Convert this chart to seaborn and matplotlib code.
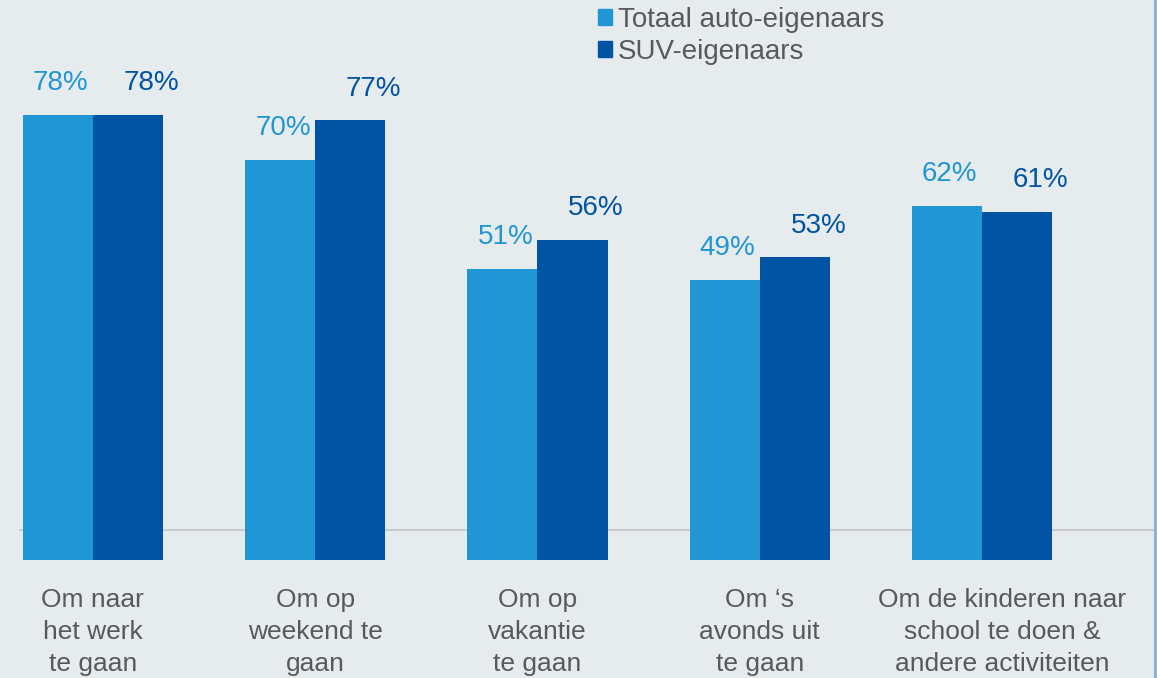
import matplotlib
matplotlib.use("Agg")
import matplotlib.pyplot as plt
import matplotlib.patches as mpatches
import matplotlib.transforms as mtransforms
import pandas as pd
import seaborn as sns

# Data
categorieen = [
    "Om naar\nhet werk\nte gaan",
    "Om op\nweekend te\ngaan",
    "Om op\nvakantie\nte gaan",
    "Om \u2018s\navonds uit\nte gaan",
    "Om de kinderen naar\nschool te doen &\nandere activiteiten",
]
reeksen = ["Totaal auto-eigenaars", "SUV-eigenaars"]
totaal = [78, 70, 51, 49, 62]
suv = [78, 77, 56, 53, 61]

kleur_licht = "#2196d4"
kleur_donker = "#0054a3"
achtergrond = "#e6ebee"
tekst_grijs = "#595959"

df = pd.DataFrame({
    "categorie": categorieen * 2,
    "reeks": [reeksen[0]] * len(totaal) + [reeksen[1]] * len(suv),
    "waarde": totaal + suv,
})

sns.set_style("white")
plt.rcParams["font.family"] = ["Liberation Sans", "DejaVu Sans"]

fig = plt.figure(figsize=(11.57, 6.78), dpi=100)
fig.patch.set_facecolor(achtergrond)
ax = fig.add_axes([0, 118 / 678, 1, 560 / 678])
ax.set_facecolor(achtergrond)

sns.barplot(data=df, x="categorie", y="waarde", hue="reeks", order=categorieen,
            hue_order=reeksen, palette=[kleur_licht, kleur_donker], width=0.63,
            saturation=1, linewidth=0, legend=False, ax=ax, zorder=3)

ax.axhline(5.25, xmin=20 / 1157, xmax=1, color="#c0c4c8", lw=1.2, zorder=1)

ax.set_xlim(-0.418, 4.787)
ax.set_ylim(0, 98.1)
ax.set_xlabel("")
ax.set_ylabel("")
ax.set_yticks([])
for s in ax.spines.values():
    s.set_visible(False)
ax.tick_params(axis="x", length=0, pad=20, labelsize=19, labelcolor=tekst_grijs)
for lbl in ax.get_xticklabels():
    lbl.set_linespacing(1.42)
# laatste label staat iets naar rechts in het origineel
laatste = ax.get_xticklabels()[-1]
laatste.set_transform(laatste.get_transform() +
                      mtransforms.ScaledTranslation(0.2, 0, fig.dpi_scale_trans))

# waardelabels
for cont, kleur, dx in zip(ax.containers, [kleur_licht, kleur_donker], [2, 17]):
    for bar in cont:
        h = bar.get_height()
        ax.annotate(f"{h:.0f}%", (bar.get_x() + bar.get_width() / 2, h),
                    xytext=(dx, 23), textcoords="offset points",
                    ha="center", va="center", fontsize=20, color=kleur)

handles = [mpatches.Patch(color=kleur_licht, label=reeksen[0]),
           mpatches.Patch(color=kleur_donker, label=reeksen[1])]
fig.legend(handles=handles, loc="upper left", bbox_to_anchor=(598 / 1157, 0.990),
           frameon=False, fontsize=20, labelcolor=tekst_grijs, handlelength=0.5,
           handleheight=0.5, handletextpad=0.22, labelspacing=0.22, borderpad=0,
           borderaxespad=0)

fig.add_artist(plt.Line2D([1155.5 / 1157, 1155.5 / 1157], [0, 1], color="#8ab4dc",
                          lw=3, transform=fig.transFigure))

fig.savefig("out.png", dpi=100, facecolor=achtergrond)
